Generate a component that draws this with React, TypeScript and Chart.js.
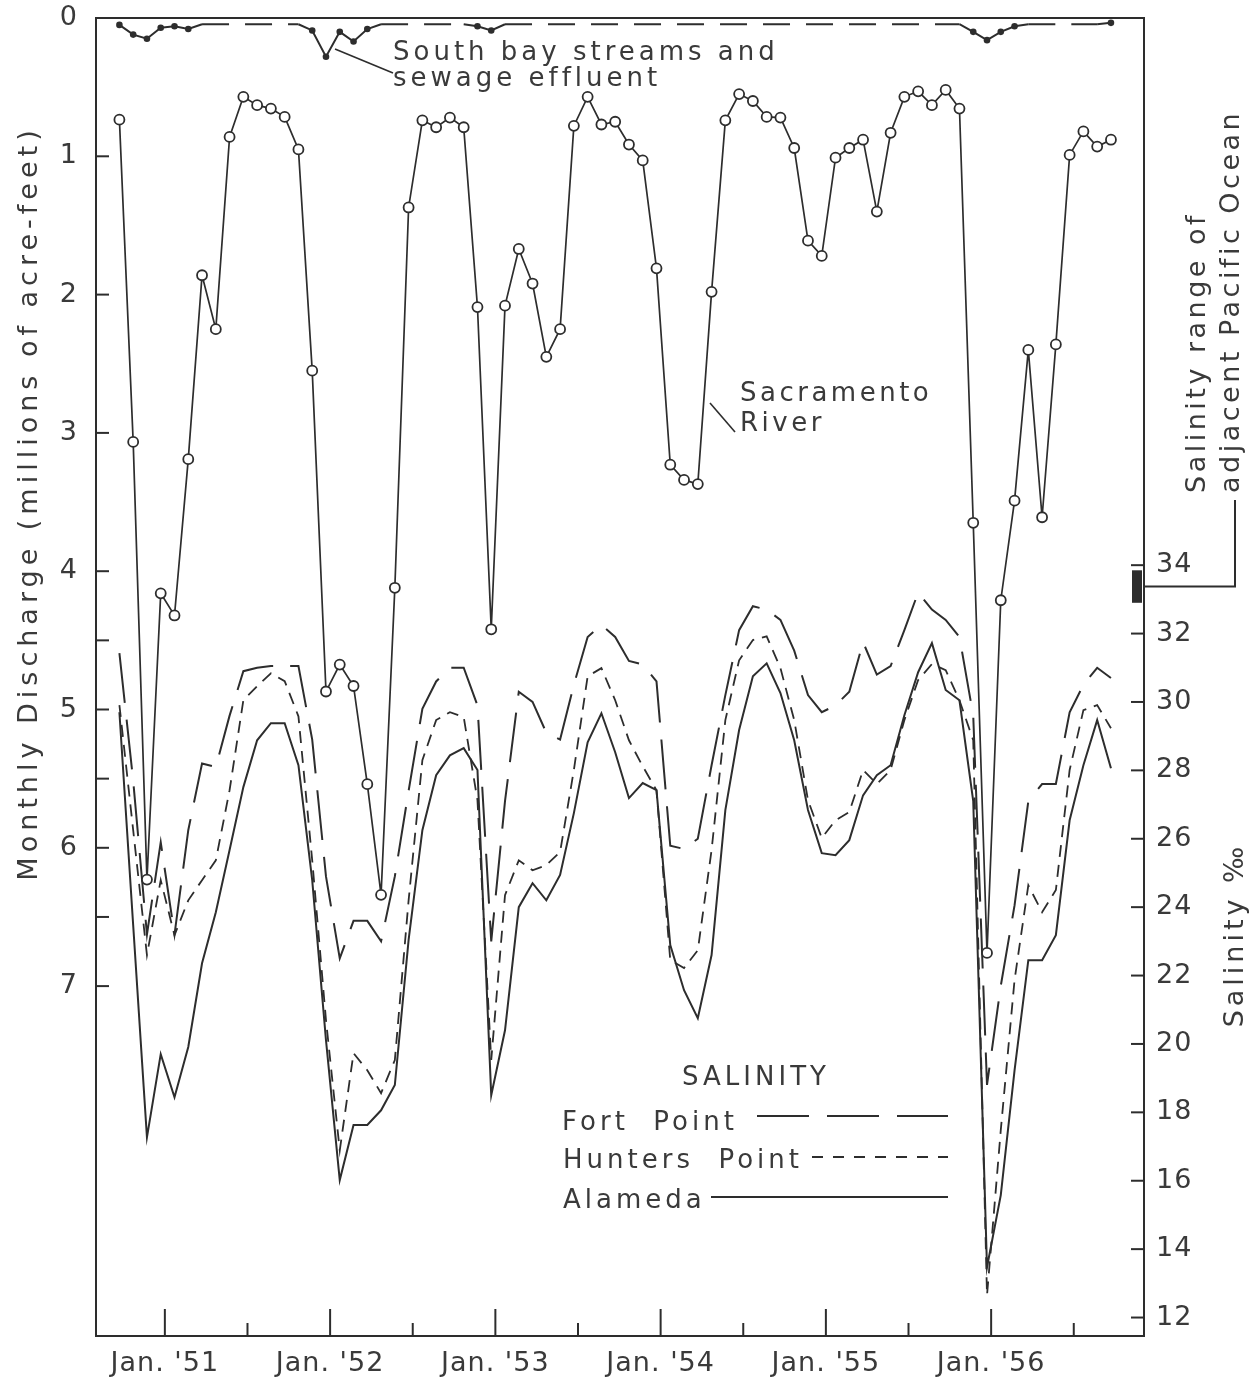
import React, { useEffect, useRef } from 'react';
import { Chart, registerables } from 'chart.js';

Chart.register(...registerables);

// first monthly sample (Sept. 1950) relative to Jan. 1951, in months
const monthOffset = -3.3;

// Sacramento River monthly discharge (millions of acre-feet), Sept 1950 .. Sept 1956
const sacramento = [
  0.735, 3.065, 6.23, 4.16, 4.32, 3.19, 1.86, 2.25, 0.86, 0.57, 0.63, 0.655, 0.715, 0.95,
  2.55, 4.87, 4.675, 4.83, 5.54, 6.34, 4.12, 1.37, 0.74, 0.79, 0.72, 0.79,
  2.09, 4.42, 2.08, 1.67, 1.92, 2.45, 2.25, 0.78, 0.57, 0.77, 0.75, 0.915, 1.03,
  1.81, 3.23, 3.34, 3.37, 1.98, 0.74, 0.55, 0.6, 0.715, 0.72, 0.94, 1.61, 1.72,
  1.01, 0.94, 0.88, 1.4, 0.83, 0.57, 0.53, 0.63, 0.52, 0.655, 3.65, 6.76, 4.21,
  3.49, 2.4, 3.61, 2.36, 0.99, 0.82, 0.93, 0.88,
];

// South bay streams and sewage effluent (millions of acre-feet)
const southBay = [
  0.05, 0.12, 0.15, 0.07, 0.06, 0.08, 0.045, 0.045, 0.045, 0.045, 0.045, 0.045, 0.045, 0.045,
  0.09, 0.28, 0.1, 0.17, 0.08, 0.045, 0.045, 0.045, 0.045, 0.045, 0.045, 0.045,
  0.06, 0.09, 0.045, 0.045, 0.045, 0.045, 0.045, 0.045, 0.045, 0.045, 0.045, 0.045, 0.045,
  0.045, 0.045, 0.045, 0.045, 0.045, 0.045, 0.045, 0.045, 0.045, 0.045, 0.045, 0.045, 0.045,
  0.045, 0.045, 0.045, 0.045, 0.045, 0.045, 0.045, 0.045, 0.045, 0.045, 0.1, 0.16, 0.1,
  0.06, 0.045, 0.045, 0.045, 0.045, 0.045, 0.045, 0.035,
];
const southBayMarked = [0, 1, 2, 3, 4, 5, 14, 15, 16, 17, 18, 26, 27, 62, 63, 64, 65, 72];

// Salinity (parts per thousand)
const fortPoint = [
  31.43, 27.7, 23.2, 25.9, 23.2, 26.25, 28.2, 28.1, 29.6, 30.9, 31.0, 31.05, 31.05, 31.05,
  28.9, 24.9, 22.5, 23.6, 23.6, 23.0, 24.9, 27.4, 29.8, 30.6, 31.0, 31.0,
  29.9, 23.0, 27.1, 30.3, 30.0, 29.1, 28.9, 30.5, 31.9, 32.25, 31.9, 31.2, 31.1,
  30.6, 25.8, 25.7, 26.0, 28.15, 30.2, 32.1, 32.8, 32.7, 32.4, 31.5, 30.2, 29.7,
  29.9, 30.3, 31.75, 30.8, 31.05, 32.1, 33.2, 32.7, 32.4, 31.9, 29.6, 18.8, 21.7,
  24.05, 27.1, 27.6, 27.6, 29.7, 30.5, 31.0, 30.7,
];
const huntersPoint = [
  29.91, 26.25, 22.6, 24.79, 23.18, 24.2, 24.79, 25.37, 27.42, 30.05, 30.46, 30.84, 30.61, 29.58,
  25.37, 20.7, 16.89, 19.73, 19.23, 18.56, 19.53, 24.2, 28.3, 29.47, 29.7, 29.56,
  27.13, 19.53, 24.35, 25.37, 25.08, 25.23, 25.61, 28.01, 30.75, 30.99, 30.05, 28.88, 28.12,
  27.42, 22.45, 22.22, 22.74, 25.67, 29.47, 31.22, 31.81, 31.92, 30.99, 29.47, 27.13, 26.02,
  26.54, 26.78, 28.01, 27.6, 28.01, 29.47, 30.64, 31.11, 30.93, 30.05, 28.88, 12.65, 17.48,
  21.87, 24.64, 23.85, 24.5, 28.01, 29.76, 29.91, 29.23,
];
const alameda = [
  29.7, 23.47, 17.27, 19.7, 18.44, 19.91, 22.36, 23.85, 25.67, 27.51, 28.88, 29.38, 29.38, 28.15,
  24.79, 20.11, 16.02, 17.63, 17.63, 18.06, 18.8, 23.04, 26.25, 27.86, 28.44, 28.65,
  28.01, 18.5, 20.4, 24.0, 24.7, 24.2, 24.94, 26.75, 28.82, 29.67, 28.53, 27.19, 27.63,
  27.42, 22.89, 21.57, 20.75, 22.6, 26.84, 29.18, 30.75, 31.13, 30.26, 28.88, 26.84, 25.58,
  25.52, 25.96, 27.27, 27.86, 28.15, 29.61, 30.87, 31.72, 30.35, 30.05, 27.1, 13.47, 15.58,
  19.23, 22.45, 22.45, 23.18, 26.54, 28.15, 29.47, 28.06,
];

const xTickMonths = [0, 6, 12, 18, 24, 30, 36, 42, 48, 54, 60, 66];
const xTickLabels = ["Jan. '51", "Jan. '52", "Jan. '53", "Jan. '54", "Jan. '55", "Jan. '56"];
const dischargeTicks = [0, 1, 2, 3, 4, 4.5, 5, 5.5, 6, 6.5, 7];
const salinityTicks = [12, 14, 16, 18, 20, 22, 24, 26, 28, 30, 32, 34];
const pacificRange = [32.9, 33.85];

const INK = '#2d2d2d';
const TEXT = '#3a3a3a';
const FONT = 'DejaVu Sans';

const pts = (arr: number[]) => arr.map((v, i) => ({ x: monthOffset + i, y: v }));

function drawText(
  ctx: CanvasRenderingContext2D,
  s: string,
  x: number,
  y: number,
  opts: { align?: CanvasTextAlign; baseline?: CanvasTextBaseline; rotate?: number; size?: number; spacing?: number } = {}
) {
  ctx.save();
  ctx.translate(x, y);
  if (opts.rotate) ctx.rotate(opts.rotate);
  ctx.font = `${opts.size ?? 26}px "${FONT}"`;
  (ctx as any).letterSpacing = `${opts.spacing ?? 4}px`;
  ctx.fillStyle = TEXT;
  ctx.textAlign = opts.align ?? 'left';
  ctx.textBaseline = opts.baseline ?? 'alphabetic';
  ctx.fillText(s, 0, 0);
  ctx.restore();
}

function line(ctx: CanvasRenderingContext2D, p: number[][], dash: number[] = [], w = 2) {
  ctx.save();
  ctx.strokeStyle = INK;
  ctx.lineWidth = w;
  ctx.setLineDash(dash);
  ctx.beginPath();
  p.forEach(([x, y], i) => (i ? ctx.lineTo(x, y) : ctx.moveTo(x, y)));
  ctx.stroke();
  ctx.restore();
}

const zeroPad = (s: any) => {
  s.paddingTop = 0;
  s.paddingBottom = 0;
  s.paddingLeft = 0;
  s.paddingRight = 0;
};

const decorPlugin = {
  id: 'decor',
  beforeDraw(chart: any) {
    (chart.ctx as any).letterSpacing = '1px';
  },
  afterDraw(chart: any) {
    const ctx: CanvasRenderingContext2D = chart.ctx;
    (ctx as any).letterSpacing = '0px';
    const { left, right, top, bottom } = chart.chartArea;
    const sx = chart.scales.x;
    const yL = chart.scales.yL;
    const yR = chart.scales.yR;

    // frame
    ctx.save();
    ctx.strokeStyle = INK;
    ctx.lineWidth = 2;
    ctx.strokeRect(left, top, right - left, bottom - top);
    ctx.restore();

    // inward ticks
    sx.ticks.forEach((t: any) => {
      const px = sx.getPixelForValue(t.value);
      const len = t.value % 12 === 0 ? 27 : 13;
      line(ctx, [[px, bottom], [px, bottom - len]], [], 2);
    });
    yL.ticks.forEach((t: any) => {
      const py = yL.getPixelForValue(t.value);
      line(ctx, [[left, py], [left + 13, py]], [], 2);
    });
    yR.ticks.forEach((t: any) => {
      const py = yR.getPixelForValue(t.value);
      line(ctx, [[right - 13, py], [right, py]], [], 2);
    });

    // Pacific Ocean salinity range bar
    const pTop = yR.getPixelForValue(pacificRange[1]);
    const pBot = yR.getPixelForValue(pacificRange[0]);
    ctx.save();
    ctx.fillStyle = INK;
    ctx.fillRect(right - 12, pTop, 10, pBot - pTop);
    ctx.restore();
    const pMid = (pTop + pBot) / 2;
    line(ctx, [[right, pMid], [1235, pMid], [1235, 500]], [], 2);

    // axis titles
    drawText(ctx, 'Monthly Discharge (millions of acre-feet)', 30, 503, {
      rotate: -Math.PI / 2, align: 'center', baseline: 'middle', size: 27, spacing: 5,
    });
    drawText(ctx, 'Salinity \u2030', 1236, 935, {
      rotate: -Math.PI / 2, align: 'center', baseline: 'middle', size: 27, spacing: 4,
    });
    drawText(ctx, 'Salinity range of', 1198, 493, {
      rotate: -Math.PI / 2, align: 'left', baseline: 'middle', size: 27, spacing: 3.5,
    });
    drawText(ctx, 'adjacent Pacific Ocean', 1232, 493, {
      rotate: -Math.PI / 2, align: 'left', baseline: 'middle', size: 27, spacing: 3.5,
    });

    // annotations
    drawText(ctx, 'South bay streams and', 393, 60);
    drawText(ctx, 'sewage effluent', 393, 86);
    line(ctx, [[335, 49], [393, 73]], [], 1.6);
    drawText(ctx, 'Sacramento', 740, 401, { spacing: 3.5 });
    drawText(ctx, 'River', 740, 431, { spacing: 3.5 });
    line(ctx, [[710, 403], [735, 432]], [], 1.6);

    // legend
    drawText(ctx, 'SALINITY', 756, 1085, { align: 'center' });
    drawText(ctx, 'Fort  Point', 562, 1130);
    line(ctx, [[757, 1116], [948, 1116]], [52, 18], 2);
    drawText(ctx, 'Hunters  Point', 563, 1168);
    line(ctx, [[812, 1157], [948, 1157]], [11, 10], 2);
    drawText(ctx, 'Alameda', 563, 1208);
    line(ctx, [[711, 1197], [948, 1197]], [], 2);
  },
};

export default function App() {
  const ref = useRef<HTMLCanvasElement | null>(null);

  useEffect(() => {
    document.body.style.margin = '0';
    const canvas = ref.current!;
    const marked = new Set(southBayMarked);
    const tickFont = { family: FONT, size: 27 };

    const chart = new Chart(canvas, {
      type: 'line',
      data: {
        datasets: [
          {
            label: 'Sacramento River',
            data: pts(sacramento),
            yAxisID: 'yL',
            borderColor: INK,
            borderWidth: 1.7,
            pointRadius: 5,
            pointBorderWidth: 1.8,
            pointBackgroundColor: '#ffffff',
            pointBorderColor: INK,
            tension: 0,
          },
          {
            label: 'South bay streams and sewage effluent',
            data: pts(southBay),
            yAxisID: 'yL',
            borderColor: INK,
            borderWidth: 2,
            pointRadius: (c: any) => (marked.has(c.dataIndex) ? 3.3 : 0),
            pointBackgroundColor: INK,
            pointBorderColor: INK,
            pointBorderWidth: 0,
            segment: {
              borderDash: (c: any) =>
                marked.has(c.p0DataIndex) || marked.has(c.p1DataIndex) ? [] : [27, 16],
            },
          },
          {
            label: 'Fort Point',
            data: pts(fortPoint),
            yAxisID: 'yR',
            borderColor: INK,
            borderWidth: 2,
            borderDash: [50, 17],
            pointRadius: 0,
          },
          {
            label: 'Hunters Point',
            data: pts(huntersPoint),
            yAxisID: 'yR',
            borderColor: INK,
            borderWidth: 1.8,
            borderDash: [12, 8],
            pointRadius: 0,
          },
          {
            label: 'Alameda',
            data: pts(alameda),
            yAxisID: 'yR',
            borderColor: INK,
            borderWidth: 2,
            pointRadius: 0,
          },
        ],
      },
      options: {
        animation: false,
        responsive: false,
        maintainAspectRatio: false,
        layout: { padding: { top: 18, left: 0, right: 0, bottom: 0 } },
        plugins: { legend: { display: false }, tooltip: { enabled: false } },
        scales: {
          x: {
            type: 'linear',
            min: -5,
            max: 71.1,
            grid: { display: false, drawTicks: false },
            border: { display: false },
            afterBuildTicks: (s: any) => {
              s.ticks = xTickMonths.map((v) => ({ value: v }));
            },
            afterFit: (s: any) => {
              s.height = 47;
              zeroPad(s);
            },
            ticks: {
              autoSkip: false,
              maxRotation: 0,
              padding: 12,
              color: TEXT,
              font: tickFont,
              callback: (v: any) => (Number(v) % 12 === 0 ? xTickLabels[Number(v) / 12] : ''),
            },
          },
          yL: {
            type: 'linear',
            position: 'left',
            min: 0,
            max: 9.53,
            reverse: true,
            grid: { display: false, drawTicks: false },
            border: { display: false },
            afterBuildTicks: (s: any) => {
              s.ticks = dischargeTicks.map((v) => ({ value: v }));
            },
            afterFit: (s: any) => {
              s.width = 96;
              zeroPad(s);
            },
            ticks: {
              padding: 18,
              color: TEXT,
              font: tickFont,
              callback: (v: any) => (Number.isInteger(Number(v)) ? String(v) : ''),
            },
          },
          yR: {
            type: 'linear',
            position: 'right',
            min: 11.46,
            max: 50,
            grid: { display: false, drawTicks: false },
            border: { display: false },
            afterBuildTicks: (s: any) => {
              s.ticks = salinityTicks.map((v) => ({ value: v }));
            },
            afterFit: (s: any) => {
              s.width = 110;
              zeroPad(s);
            },
            ticks: {
              padding: 12,
              color: TEXT,
              font: tickFont,
              callback: (v: any) => String(v),
            },
          },
        },
      } as any,
      plugins: [decorPlugin],
    });
    return () => chart.destroy();
  }, []);

  return (
    <div style={{ width: 1254, height: 1383, background: '#ffffff' }}>
      <canvas ref={ref} width={1254} height={1383} style={{ display: 'block' }} />
    </div>
  );
}
